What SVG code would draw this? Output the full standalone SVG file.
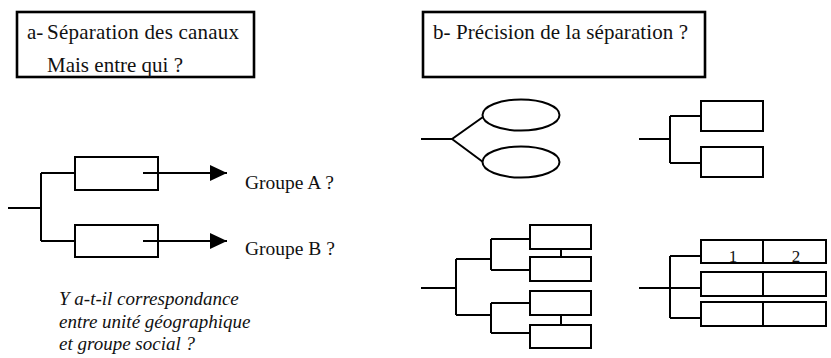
<svg xmlns="http://www.w3.org/2000/svg" width="831" height="358" viewBox="0 0 831 358">
<defs>
<style>
.ln{fill:none;stroke:#000;stroke-width:2}
.bx{fill:#fff;stroke:#000;stroke-width:2}
.tb{fill:#fff;stroke:#000;stroke-width:2.6}
.t{font-family:"Liberation Serif","Times New Roman","DejaVu Serif",serif;fill:#111}
.it{font-family:"Liberation Serif","Times New Roman","DejaVu Serif",serif;font-style:italic;fill:#111}
</style>
<marker id="ah" markerWidth="17" markerHeight="16" refX="17" refY="8" orient="auto" markerUnits="userSpaceOnUse">
<path d="M0,0 L17,8 L0,16 Z" fill="#000"/>
</marker>
</defs>
<rect width="831" height="358" fill="#fff"/>

<g id="title-a">
<rect class="tb" x="17" y="12" width="237" height="65"/>
<text class="t" font-size="21" x="27" y="39">a-</text>
<text class="t" font-size="21" x="47" y="39" textLength="192">Séparation des canaux</text>
<text class="t" font-size="21" x="47" y="72" textLength="136">Mais entre qui ?</text>
</g>

<g id="title-b">
<rect class="tb" x="423" y="12" width="282" height="65"/>
<text class="t" font-size="21" x="433" y="39" textLength="255">b- Précision de la séparation ?</text>
</g>

<g id="connectors">
<path class="ln" d="M8,208 H41 M41,173 V241 M41,173 H75 M41,241 H75"/>
<path class="ln" d="M421,139 H452 L483,117 M452,139 L483,162"/>
<path class="ln" d="M639,139 H670 M670,116 V163 M670,116 H701 M670,163 H701"/>
<path class="ln" d="M421,288 H456 M456,259 V315 M456,259 H491 M456,315 H491 M491,239 V270 M491,239 H530 M491,270 H530 M491,303 V333 M491,303 H530 M491,333 H530 M561,249 V257 M561,315 V325"/>
<path class="ln" d="M639,288 H701 M670,256 V318 M670,256 H701 M670,318 H701"/>
</g>

<g id="box-a1"><rect class="bx" x="75" y="157" width="83" height="33"/></g>
<g id="box-a2"><rect class="bx" x="75" y="225" width="83" height="32"/></g>
<g id="arrows">
<path class="ln" d="M143,173 H227" marker-end="url(#ah)"/>
<path class="ln" d="M143,241 H227" marker-end="url(#ah)"/>
</g>
<g id="groupe-a"><text class="t" font-size="19.5" x="245" y="189">Groupe A ?</text></g>
<g id="groupe-b"><text class="t" font-size="19.5" x="245" y="255">Groupe B ?</text></g>

<g id="question">
<text class="it" font-size="19" x="59" y="305">Y a-t-il correspondance</text>
<text class="it" font-size="19" x="59" y="327.5">entre unité géographique</text>
<text class="it" font-size="19" x="59" y="350">et groupe social ?</text>
</g>

<g id="ellipse-1"><ellipse class="bx" cx="521" cy="115" rx="38.5" ry="15.5"/></g>
<g id="ellipse-2"><ellipse class="bx" cx="521" cy="162" rx="38.5" ry="15.5"/></g>

<g id="rect-tr1"><rect class="bx" x="701" y="101" width="62" height="30"/></g>
<g id="rect-tr2"><rect class="bx" x="701" y="147" width="62" height="30"/></g>

<g id="rect-bl1"><rect class="bx" x="530" y="225" width="61" height="24"/></g>
<g id="rect-bl2"><rect class="bx" x="530" y="257" width="61" height="24"/></g>
<g id="rect-bl3"><rect class="bx" x="530" y="291" width="61" height="24"/></g>
<g id="rect-bl4"><rect class="bx" x="530" y="325" width="61" height="23"/></g>

<g id="row-1">
<rect class="bx" x="701" y="240" width="125" height="23"/>
<path class="ln" d="M763,240 V263"/>
<text class="t" font-size="17" x="733" y="262" text-anchor="middle">1</text>
<text class="t" font-size="17" x="796" y="262" text-anchor="middle">2</text>
</g>
<g id="row-2">
<rect class="bx" x="701" y="272" width="125" height="24"/>
<path class="ln" d="M763,272 V296"/>
</g>
<g id="row-3">
<rect class="bx" x="701" y="302" width="125" height="24"/>
<path class="ln" d="M763,302 V326"/>
</g>
</svg>
